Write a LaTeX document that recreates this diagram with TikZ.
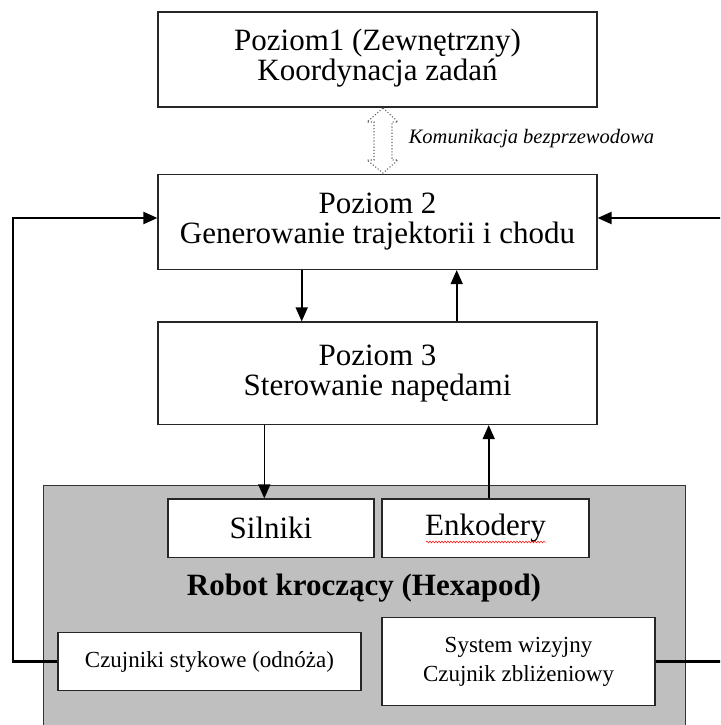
\documentclass[tikz,border=0pt]{standalone}
\usepackage{fontspec}
\setmainfont{Liberation Serif}
\usetikzlibrary{arrows.meta,decorations.pathmorphing}
\begin{document}
\begin{tikzpicture}[x=1pt,y=-1pt,
  box/.style={draw=black!85, line width=1.2pt, fill=white, inner sep=0pt},
  big/.style={font=\fontsize{31}{30}\selectfont, align=center},
  small/.style={font=\fontsize{23}{29}\selectfont, align=center},
  arr/.style={draw=black, line width=1.6pt, -{Triangle[length=14pt,width=12pt]}},
  fb/.style={draw=black, line width=2.2pt, -{Triangle[length=14pt,width=12pt]}}]
\clip (0,0) rectangle (720,725);
\fill[white] (0,0) rectangle (720,725);
% robot body
\node[draw=black!80, line width=1pt, fill=black!25, minimum width=642pt, minimum height=245pt, inner sep=0pt] (robot) at (364,607.5) {};
\node[font=\fontsize{31}{30}\selectfont\bfseries, anchor=base] (rt) at (364,595) {Robot kroczący (Hexapod)};
% level boxes
\node[box,big,minimum width=439pt,minimum height=95pt] (b1) at (377.5,59.5) {Poziom1 (Zewnętrzny)\\Koordynacja zadań\rule[-9pt]{0pt}{1pt}};
\node[box,big,minimum width=439pt,minimum height=95pt] (b2) at (377.5,222) {Poziom 2\\Generowanie trajektorii i chodu};
\node[box,big,minimum width=439pt,minimum height=102.5pt] (b3) at (377.5,373.25) {Poziom 3\\Sterowanie napędami};
% hardware boxes
\node[box,big,minimum width=206pt,minimum height=58.5pt] (sil) at (271,528.25) {Silniki};
\node[box,big,minimum width=207pt,minimum height=58.5pt] (enk) at (485.5,528.25) {Enkodery};
\node[box,small,minimum width=303pt,minimum height=58pt] (czu) at (209.5,661.5) {Czujniki stykowe (odnóża)};
\node[box,small,minimum width=273pt,minimum height=88pt] (sys) at (518.5,661.5) {System wizyjny\\Czujnik zbliżeniowy};
% spell-check squiggle under Enkodery
\draw[red, line width=0.5pt, decorate, decoration={snake, amplitude=0.9pt, segment length=3pt}] (426,542) -- (546,542);
% wireless link
\draw[dotted, draw=black!60, line width=1.1pt]
  (383,108) -- (398,122) -- (392,122) -- (392,160) -- (398,160) -- (383,173)
  -- (367,160) -- (374,160) -- (374,122) -- (367,122) -- cycle;
\node[font=\fontsize{20.5}{24}\selectfont\itshape, anchor=base] (kom) at (531.5,143) {Komunikacja bezprzewodowa};
% vertical arrows
\coordinate (xa) at (301.7,0);
\coordinate (xb) at (456.7,0);
\coordinate (xc) at (264.3,0);
\coordinate (xd) at (488.7,0);
\draw[arr] (xa |- b2.south) -- (xa |- b3.north);
\draw[arr] (xb |- b3.north) -- (xb |- b2.south);
\draw[arr] (xc |- b3.south) -- (xc |- sil.north);
\draw[arr] (xd |- enk.north) -- (xd |- b3.south);
% feedback loops
\coordinate (L) at (13.3,218);
\coordinate (R) at (735,218);
\draw[fb] (czu.west) -| (L) -- (b2.west |- L);
\draw[fb] (sys.east) -| (R) -- (b2.east |- R);
\end{tikzpicture}
\end{document}
